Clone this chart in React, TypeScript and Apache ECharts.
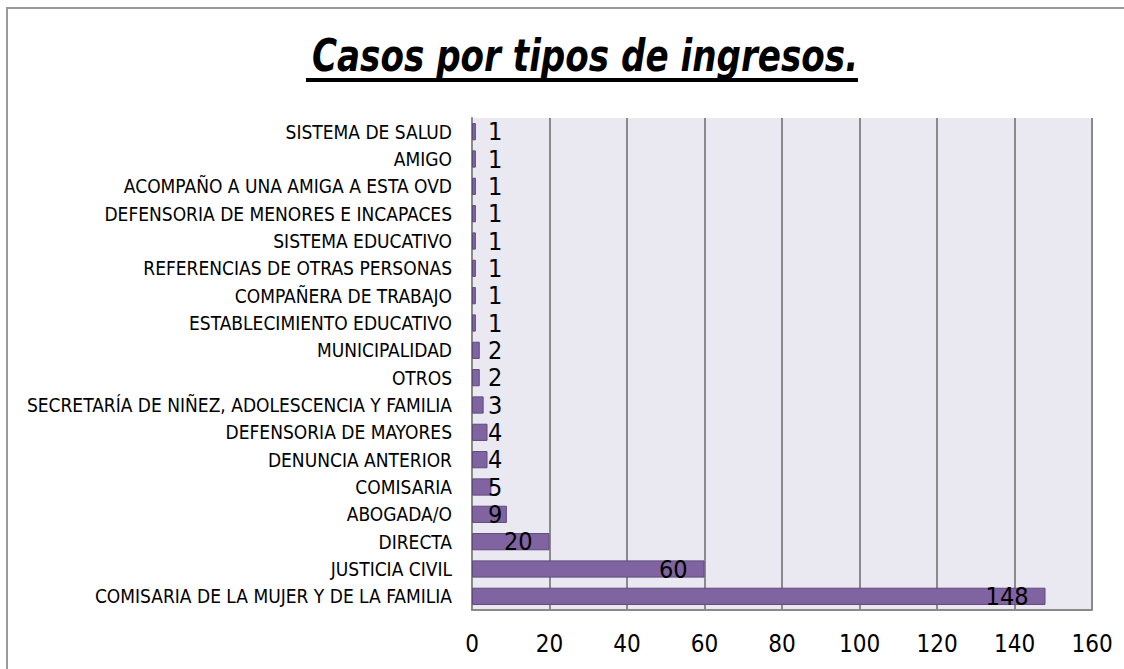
import React, { useEffect, useRef } from "react";
import * as echarts from "echarts";

const categories = [
  "SISTEMA DE SALUD",
  "AMIGO",
  "ACOMPAÑO A UNA AMIGA A ESTA OVD",
  "DEFENSORIA DE MENORES E INCAPACES",
  "SISTEMA EDUCATIVO",
  "REFERENCIAS DE OTRAS PERSONAS",
  "COMPAÑERA DE TRABAJO",
  "ESTABLECIMIENTO EDUCATIVO",
  "MUNICIPALIDAD",
  "OTROS",
  "SECRETARÍA DE NIÑEZ, ADOLESCENCIA Y FAMILIA",
  "DEFENSORIA DE MAYORES",
  "DENUNCIA ANTERIOR",
  "COMISARIA",
  "ABOGADA/O",
  "DIRECTA",
  "JUSTICIA CIVIL",
  "COMISARIA DE LA MUJER Y DE LA FAMILIA",
];
const values = [1, 1, 1, 1, 1, 1, 1, 1, 2, 2, 3, 4, 4, 5, 9, 20, 60, 148];
const titleText = "Casos por tipos de ingresos.";

const NARROW = "'Liberation Sans Narrow', 'Arial Narrow', 'DejaVu Sans Condensed', sans-serif";

export default function App() {
  const ref = useRef<HTMLDivElement>(null);
  useEffect(() => {
    if (!ref.current) return;
    const chart = echarts.init(ref.current, undefined, { renderer: "svg" });
    const titleFont = `italic bold 45px ${NARROW}`;
    const cv = document.createElement("canvas").getContext("2d")!;
    cv.font = titleFont;
    const tw = cv.measureText(titleText).width;
    const targetW = 546;
    const sx = targetW / tw;
    const titleLeft = 312;
    chart.setOption({
      animation: false,
      backgroundColor: "#ffffff",
      graphic: [
        {
          type: "rect",
          shape: { x: 7, y: 8, width: 1200, height: 800 },
          style: { fill: "none", stroke: "#9a9a9a", lineWidth: 2 },
          silent: true,
        },
        {
          type: "text",
          x: titleLeft,
          y: 55,
          scaleX: sx,
          style: {
            text: titleText,
            font: titleFont,
            fill: "#000",
            align: "left",
            verticalAlign: "middle",
          },
        },
        {
          type: "rect",
          shape: { x: 306, y: 78, width: 552, height: 4 },
          style: { fill: "#000" },
        },
      ],
      grid: { left: 472, right: 32, top: 118, bottom: 59, containLabel: false, show: true, backgroundColor: "#EAE8F0", borderWidth: 0 },
      xAxis: {
        type: "value",
        min: 0,
        max: 160,
        interval: 20,
        axisLine: { show: true, lineStyle: { color: "#8a8a8a", width: 2 } },
        axisTick: { show: false },
        splitLine: { show: true, lineStyle: { color: "#8a8a8a", width: 2 } },
        axisLabel: { color: "#000", fontSize: 24, fontFamily: NARROW, margin: 22 },
      },
      yAxis: {
        type: "category",
        data: categories,
        inverse: true,
        axisLine: { show: true, lineStyle: { color: "#8a8a8a", width: 2 } },
        axisTick: { show: false },
        axisLabel: { color: "#000", fontSize: 19, fontFamily: NARROW, margin: 20 },
      },
      series: [
        {
          type: "bar",
          barCategoryGap: "37%",
          data: values.map((v) => ({
            value: v,
            label: v < 10
              ? { position: "insideLeft", distance: 16 }
              : { position: "insideRight", distance: 17 },
          })),
          itemStyle: { color: "#8064A2", borderColor: "#5F4A7C", borderWidth: 1 },
          label: {
            show: true,
            color: "#000",
            fontSize: 25,
            fontFamily: NARROW,
          },
        },
      ],
    });
    return () => chart.dispose();
  }, []);
  return (
    <div
      ref={ref}
      style={{ position: "fixed", left: 0, top: 0, width: 1124, height: 669 }}
    />
  );
}
